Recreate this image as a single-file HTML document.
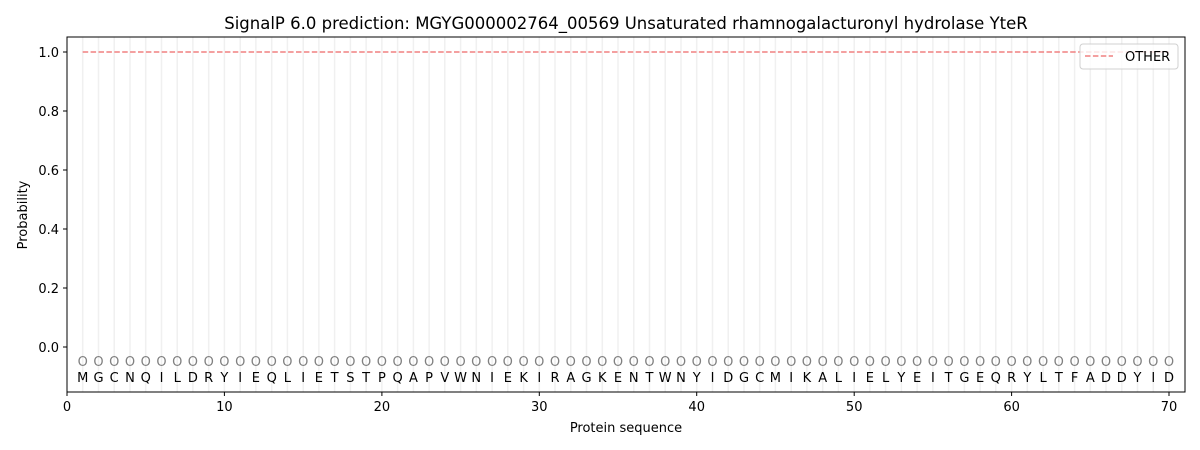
<!DOCTYPE html>
<html><head><meta charset="utf-8"><style>body{margin:0;background:#fff}svg{display:block}text{font-family:"DejaVu Sans","Liberation Sans",sans-serif}</style></head>
<body>
<svg width="1200" height="450" viewBox="0 0 1200 450" xmlns="http://www.w3.org/2000/svg">
<rect width="1200" height="450" fill="#fff"/>
<g stroke="#f0f0f0" stroke-width="1.5">
<path d="M82.7 37V392M98.5 37V392M114.2 37V392M130 37V392M145.7 37V392M161.5 37V392M177.2 37V392M192.9 37V392M208.7 37V392M224.4 37V392M240.2 37V392M255.9 37V392M271.7 37V392M287.4 37V392M303.2 37V392M318.9 37V392M334.6 37V392M350.4 37V392M366.1 37V392M381.9 37V392M397.6 37V392M413.4 37V392M429.1 37V392M444.8 37V392M460.6 37V392M476.3 37V392M492.1 37V392M507.8 37V392M523.6 37V392M539.3 37V392M555 37V392M570.8 37V392M586.5 37V392M602.3 37V392M618 37V392M633.8 37V392M649.5 37V392M665.2 37V392M681 37V392M696.7 37V392M712.5 37V392M728.2 37V392M744 37V392M759.7 37V392M775.4 37V392M791.2 37V392M806.9 37V392M822.7 37V392M838.4 37V392M854.2 37V392M869.9 37V392M885.6 37V392M901.4 37V392M917.1 37V392M932.9 37V392M948.6 37V392M964.4 37V392M980.1 37V392M995.8 37V392M1011.6 37V392M1027.3 37V392M1043.1 37V392M1058.8 37V392M1074.6 37V392M1090.3 37V392M1106 37V392M1121.8 37V392M1137.5 37V392M1153.3 37V392M1169 37V392"/>
</g>
<line x1="82.7" y1="52" x2="1169" y2="52" stroke="#f08080" stroke-width="1.5" stroke-dasharray="5.5,2.4"/>
<text font-size="13" fill="#808080" text-anchor="middle" x="82.7 98.5 114.2 130 145.7 161.5 177.2 192.9 208.7 224.4 240.2 255.9 271.7 287.4 303.2 318.9 334.6 350.4 366.1 381.9 397.6 413.4 429.1 444.8 460.6 476.3 492.1 507.8 523.6 539.3 555 570.8 586.5 602.3 618 633.8 649.5 665.2 681 696.7 712.5 728.2 744 759.7 775.4 791.2 806.9 822.7 838.4 854.2 869.9 885.6 901.4 917.1 932.9 948.6 964.4 980.1 995.8 1011.6 1027.3 1043.1 1058.8 1074.6 1090.3 1106 1121.8 1137.5 1153.3 1169" y="366">OOOOOOOOOOOOOOOOOOOOOOOOOOOOOOOOOOOOOOOOOOOOOOOOOOOOOOOOOOOOOOOOOOOOOO</text>
<text font-size="13" fill="#000" text-anchor="middle" x="82.7 98.5 114.2 130 145.7 161.5 177.2 192.9 208.7 224.4 240.2 255.9 271.7 287.4 303.2 318.9 334.6 350.4 366.1 381.9 397.6 413.4 429.1 444.8 460.6 476.3 492.1 507.8 523.6 539.3 555 570.8 586.5 602.3 618 633.8 649.5 665.2 681 696.7 712.5 728.2 744 759.7 775.4 791.2 806.9 822.7 838.4 854.2 869.9 885.6 901.4 917.1 932.9 948.6 964.4 980.1 995.8 1011.6 1027.3 1043.1 1058.8 1074.6 1090.3 1106 1121.8 1137.5 1153.3 1169" y="382">MGCNQILDRYIEQLIETSTPQAPVWNIEKIRAGKENTWNYIDGCMIKALIELYEITGEQRYLTFADDYID</text>
<rect x="67" y="37" width="1118" height="355" fill="none" stroke="#000" stroke-width="1"/>
<g stroke="#000"><path d="M67 392v4M224.4 392v4M381.9 392v4M539.3 392v4M696.7 392v4M854.2 392v4M1011.6 392v4M1169 392v4M67 347h-4M67 288h-4M67 229h-4M67 170h-4M67 111h-4M67 52h-4"/></g>
<g font-size="13" text-anchor="middle" fill="#000">
<text x="67" y="411">0</text><text x="224.4" y="411">10</text><text x="381.9" y="411">20</text><text x="539.3" y="411">30</text><text x="696.7" y="411">40</text><text x="854.2" y="411">50</text><text x="1011.6" y="411">60</text><text x="1169" y="411">70</text>
<text x="626" y="432">Protein sequence</text>
<text x="626" y="29" font-size="16.5">SignalP 6.0 prediction: MGYG000002764_00569 Unsaturated rhamnogalacturonyl hydrolase YteR</text>
</g>
<g font-size="13" text-anchor="end" fill="#000">
<text x="59" y="352">0.0</text><text x="59" y="293">0.2</text><text x="59" y="234">0.4</text><text x="59" y="175">0.6</text><text x="59" y="116">0.8</text><text x="59" y="57">1.0</text>
</g>
<text transform="translate(27 215) rotate(-90)" font-size="13" text-anchor="middle">Probability</text>
<rect x="1080" y="44" width="98" height="25" rx="3" fill="#fff" fill-opacity="0.8" stroke="#d0d0d0"/>
<line x1="1085" y1="56" x2="1113" y2="56" stroke="#f08080" stroke-width="1.5" stroke-dasharray="5.5,2.4"/>
<text x="1125" y="61" font-size="13">OTHER</text>
</svg>
</body></html>
